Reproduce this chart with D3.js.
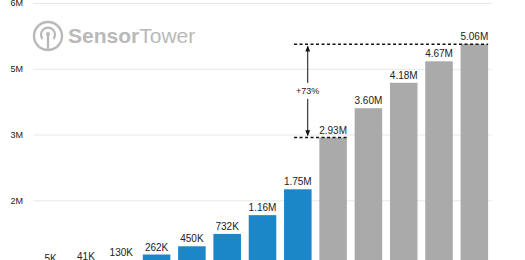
<!DOCTYPE html>
<html>
<head>
<meta charset="utf-8">
<script src="https://cdn.jsdelivr.net/npm/d3@7"></script>
<style>
  body { margin: 0; background: #fff; }
  svg { display: block; font-family: "Helvetica Neue", Helvetica, Arial, "Liberation Sans", sans-serif; }
</style>
</head>
<body>
<div id="chart"></div>
<script>
// values
var values = [5e3, 41e3, 130e3, 262e3, 450e3, 732e3, 1.16e6, 1.75e6, 2.93e6, 3.60e6, 4.18e6, 4.67e6, 5.06e6];
var valueLabels = ["5K", "41K", "130K", "262K", "450K", "732K", "1.16M", "1.75M", "2.93M", "3.60M", "4.18M", "4.67M", "5.06M"];
var isForecast = [false, false, false, false, false, false, false, false, true, true, true, true, true];
var tickValues = [1.5e6, 3e6, 4.5e6, 6e6];
var tickLabels = ["2M", "3M", "5M", "6M"];
var growthLabel = "+73%";

var width = 525, height = 260;
var blue = "#1b87c9", grey = "#aaaaaa";

function translate(x, y){
    return "translate(" + x + "," + y + ")";
}

var svg = d3.select("#chart").append("svg")
    .attr("width", width)
    .attr("height", height)
    .style("overflow", "hidden");

var idx = d3.range(values.length);

var xScale = d3.scaleBand()
    .domain(idx)
    .range([33, 492])
    .paddingInner(0.22)
    .paddingOuter(0.11);

// baseline sits just below the visible area
var yScale = d3.scaleLinear()
    .domain([0, 6e6])
    .range([266, 3]);

// gridlines + tick labels
var yAxis = d3.axisLeft(yScale)
    .tickValues(tickValues)
    .tickSize(-(492 - 33))
    .tickFormat(function(d, i){ return tickLabels[i]; });

var gAxis = svg.append("g")
    .attr("transform", translate(33, 0))
    .call(yAxis);
gAxis.select(".domain").remove();
gAxis.selectAll(".tick line").attr("stroke", "#e8e8e8");
gAxis.selectAll(".tick text")
    .attr("x", -10)
    .attr("fill", "#222")
    .style("font-size", "9px")
    .style("font-family", "inherit");

// watermark
var logo = svg.append("g").attr("transform", translate(48, 36)).attr("fill", "none").attr("stroke", "#b9b9b9");
logo.append("circle").attr("r", 14).attr("stroke-width", 2.4);
logo.append("path")
    .attr("d", "M-5.5,3 A7,7 0 1 1 5.5,3")
    .attr("stroke-width", 2.2);
logo.append("circle").attr("cy", -2).attr("r", 2).attr("fill", "#b9b9b9").attr("stroke", "none");
logo.append("line").attr("x1", 0).attr("x2", 0).attr("y1", -1).attr("y2", 14).attr("stroke-width", 2.4);

var wm = svg.append("text")
    .attr("x", 68)
    .attr("y", 43)
    .attr("fill", "#b9b9b9")
    .style("font-family", "Arial, 'Liberation Sans', sans-serif")
    .style("font-size", "21px");
wm.append("tspan").style("font-weight", "bold").text("Sensor");
wm.append("tspan").text("Tower");

// bars
svg.selectAll(".bar")
    .data(idx)
    .enter()
    .append("rect")
    .attr("class", "bar")
    .attr("x", function(i){ return xScale(i); })
    .attr("y", function(i){ return yScale(values[i]); })
    .attr("width", xScale.bandwidth())
    .attr("height", function(i){ return yScale(0) - yScale(values[i]); })
    .attr("fill", function(i){ return isForecast[i] ? grey : blue; });

svg.selectAll(".val")
    .data(idx)
    .enter()
    .append("text")
    .attr("class", "val")
    .attr("x", function(i){ return xScale(i) + xScale.bandwidth() / 2; })
    .attr("y", function(i){ return yScale(values[i]) - 4; })
    .attr("text-anchor", "middle")
    .attr("fill", "#222")
    .style("font-size", "10px")
    .text(function(i){ return valueLabels[i]; });

// growth annotation between first forecast bar and last bar
var first = isForecast.indexOf(true), last = values.length - 1;
var xStart = xScale(first - 1) + 10;
var yTop = yScale(values[last]), yLow = yScale(values[first]);

svg.append("line")
    .attr("x1", xStart).attr("x2", xScale(last) + xScale.bandwidth())
    .attr("y1", yTop).attr("y2", yTop)
    .attr("stroke", "#111").attr("stroke-width", 1.5).attr("stroke-dasharray", "3,2.5");
svg.append("line")
    .attr("x1", xStart).attr("x2", xScale(first) + xScale.bandwidth())
    .attr("y1", yLow).attr("y2", yLow)
    .attr("stroke", "#111").attr("stroke-width", 1.5).attr("stroke-dasharray", "3,2.5");

var ax = xScale(first - 1) + xScale.bandwidth() * 0.86;
var yMid = (yTop + yLow) / 2;

svg.append("defs").append("marker")
    .attr("id", "arr")
    .attr("viewBox", "0 0 10 10")
    .attr("refX", 9).attr("refY", 5)
    .attr("markerWidth", 6).attr("markerHeight", 6)
    .attr("orient", "auto")
    .append("path").attr("d", "M0,1 L10,5 L0,9 z").attr("fill", "#111");

svg.append("line")
    .attr("x1", ax).attr("x2", ax)
    .attr("y1", yMid - 8).attr("y2", yTop + 2)
    .attr("stroke", "#111").attr("stroke-width", 1)
    .attr("marker-end", "url(#arr)");
svg.append("line")
    .attr("x1", ax).attr("x2", ax)
    .attr("y1", yMid + 8).attr("y2", yLow - 2)
    .attr("stroke", "#111").attr("stroke-width", 1)
    .attr("marker-end", "url(#arr)");

svg.append("text")
    .attr("x", ax)
    .attr("y", yMid + 3)
    .attr("text-anchor", "middle")
    .attr("fill", "#222")
    .style("font-size", "9px")
    .text(growthLabel);
</script>
</body>
</html>
